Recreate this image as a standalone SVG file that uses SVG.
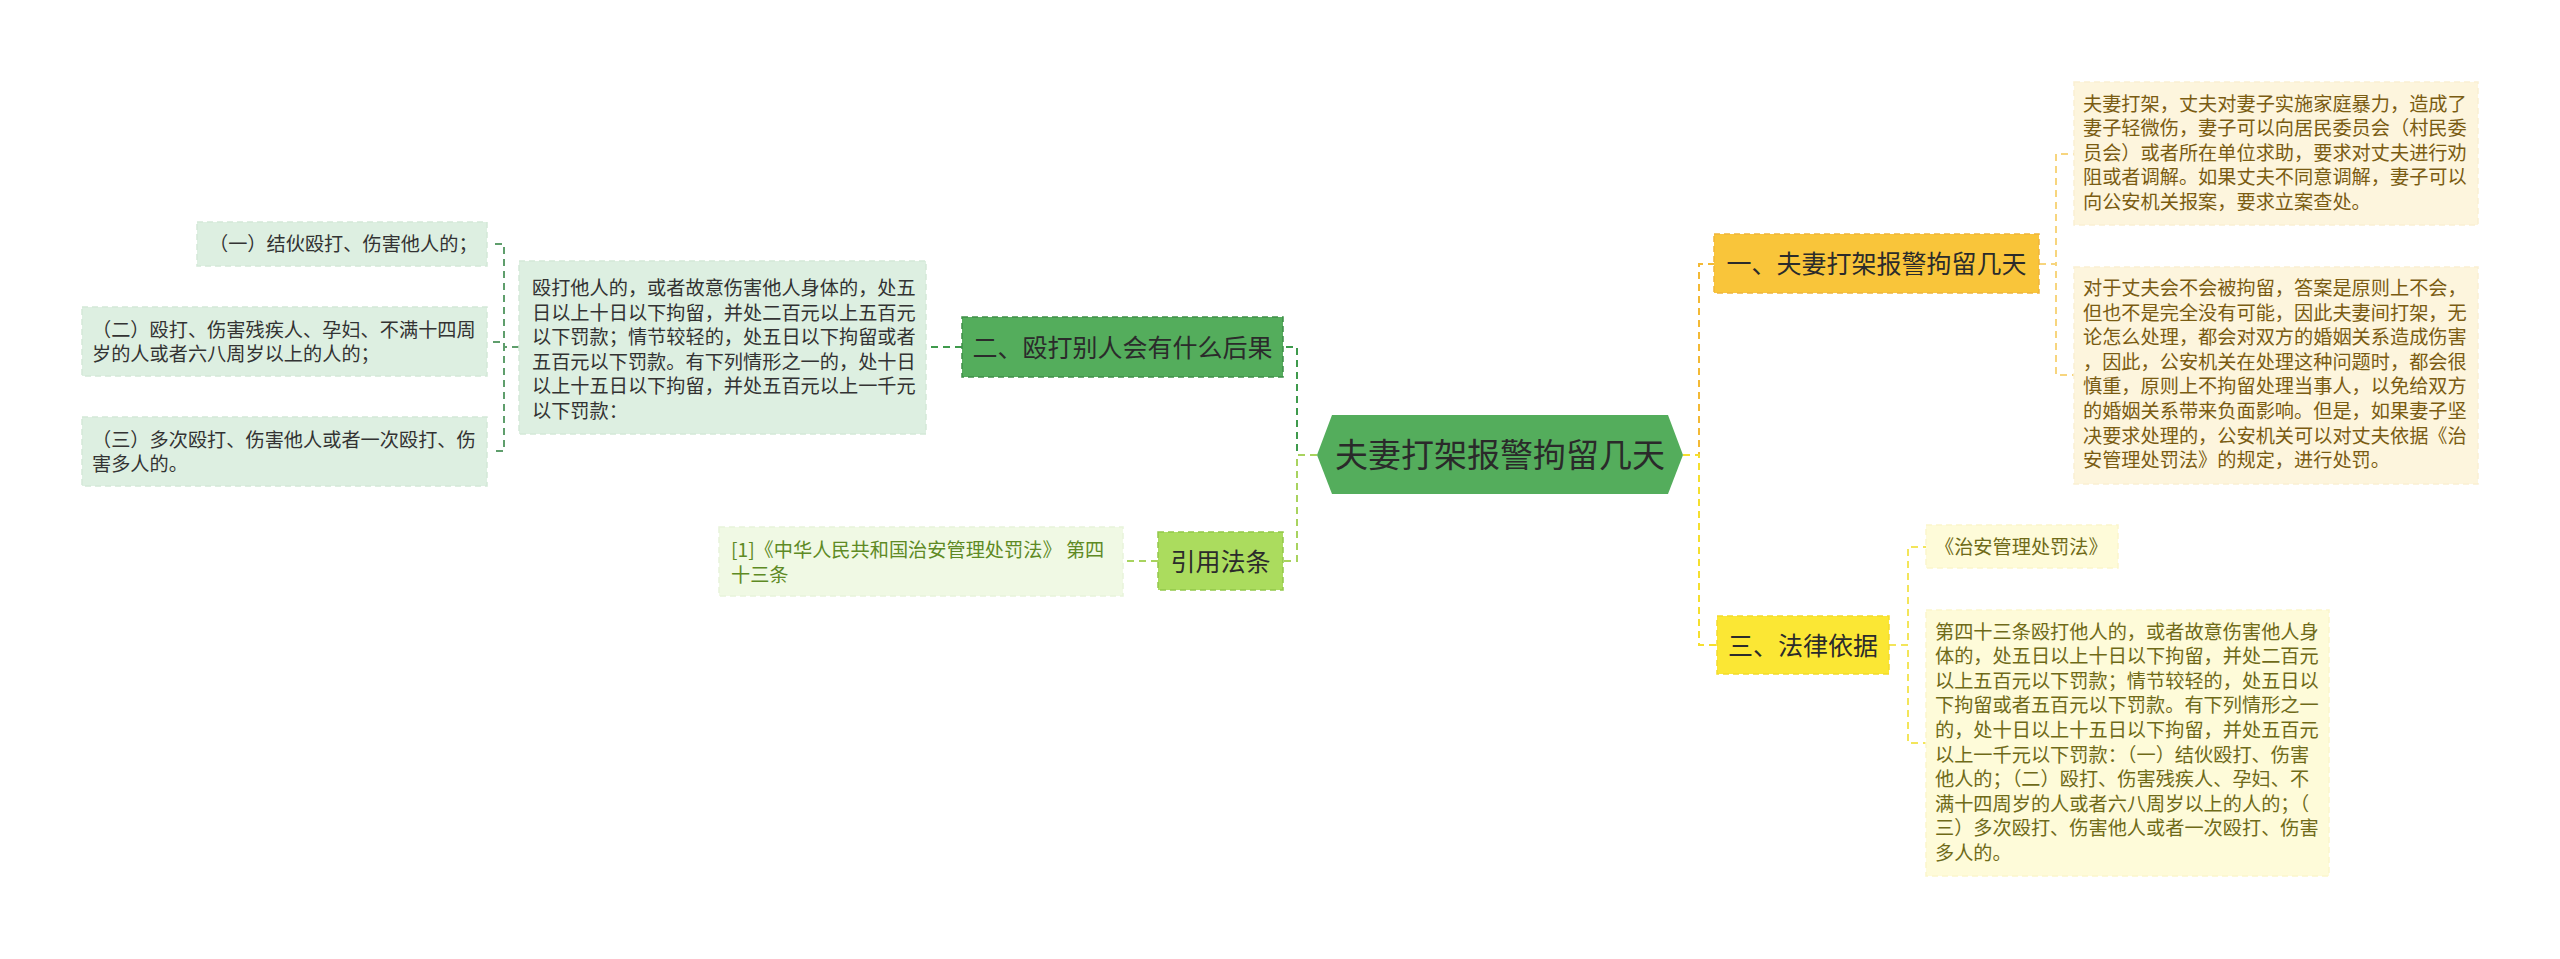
<svg xmlns="http://www.w3.org/2000/svg" width="2560" height="959" viewBox="0 0 2560 959">
<style>
text{font-family:"Noto Sans CJK SC","Noto Sans",sans-serif;}
.leaf{font-size:19.2px;}
.main{font-size:25px;text-anchor:middle;fill:#2b2b2b;}
.c{fill:none;stroke-width:2;stroke-dasharray:7 5;}
.bd{stroke-width:1.5;stroke-dasharray:6 4;}
</style>
<rect width="2560" height="959" fill="#ffffff"/>
<g id="connectors">
<path class="c" stroke="#3e9a4c" d="M1317,455 H1297 V347 H1283"/>
<path class="c" stroke="#a8d35e" d="M1317,455 H1297 V561 H1283"/>
<path class="c" stroke="#a8d35e" d="M1158,561 H1123"/>
<path class="c" stroke="#3e9a4c" d="M962,347 H926"/>
<path class="c" stroke="#5f9e6c" d="M519,347 H504 V244 H491"/>
<path class="c" stroke="#5f9e6c" d="M519,347 H504 V342 H491"/>
<path class="c" stroke="#5f9e6c" d="M519,347 H504 V451 H491"/>
<path class="c" stroke="#f3b935" d="M1683,455 H1699 V264 H1714"/>
<path class="c" stroke="#f5df2e" d="M1683,455 H1699 V645 H1717"/>
<path class="c" stroke="#f7d57e" d="M2039,264 H2056 V154 H2074"/>
<path class="c" stroke="#f7d57e" d="M2039,264 H2056 V375 H2074"/>
<path class="c" stroke="#f3e55a" d="M1889,645 H1908 V547 H1926"/>
<path class="c" stroke="#f3e55a" d="M1889,645 H1908 V743 H1926"/>
</g>
<g id="center">
<polygon points="1317,455 1332,415 1668,415 1683,455 1668,494 1332,494" fill="#54ad5c"/>
<text x="1500" y="467" font-size="33" text-anchor="middle" fill="#2a2a2a">夫妻打架报警拘留几天</text>
</g>
<g id="n2">
<rect class="bd" x="962" y="317" width="321" height="60" fill="#54ad5c" stroke="#3e8f47"/>
<text class="main" x="1122.5" y="356.5">二、殴打别人会有什么后果</text>
</g>
<g id="n2-detail">
<rect class="bd" x="519" y="261" width="407" height="173" fill="#ddefe1" stroke="#d4e9d8"/>
<text class="leaf" x="532" fill="#333333"><tspan x="532" y="295">殴打他人的，或者故意伤害他人身体的，处五</tspan><tspan x="532" y="319.6">日以上十日以下拘留，并处二百元以上五百元</tspan><tspan x="532" y="344.2">以下罚款；情节较轻的，处五日以下拘留或者</tspan><tspan x="532" y="368.8">五百元以下罚款。有下列情形之一的，处十日</tspan><tspan x="532" y="393.4">以上十五日以下拘留，并处五百元以上一千元</tspan><tspan x="532" y="418">以下罚款：</tspan></text>
</g>
<g id="n2-a">
<rect class="bd" x="197" y="222" width="290" height="44" fill="#ddefe1" stroke="#d4e9d8"/>
<text class="leaf" x="209" y="251.3" fill="#333333">（一）结伙殴打、伤害他人的；</text>
</g>
<g id="n2-b">
<rect class="bd" x="82" y="307" width="405" height="69" fill="#ddefe1" stroke="#d4e9d8"/>
<text class="leaf" fill="#333333"><tspan x="92" y="336.5">（二）殴打、伤害残疾人、孕妇、不满十四周</tspan><tspan x="92" y="361.1">岁的人或者六八周岁以上的人的；</tspan></text>
</g>
<g id="n2-c">
<rect class="bd" x="82" y="417" width="405" height="69" fill="#ddefe1" stroke="#d4e9d8"/>
<text class="leaf" fill="#333333"><tspan x="92" y="446.5">（三）多次殴打、伤害他人或者一次殴打、伤</tspan><tspan x="92" y="471.1">害多人的。</tspan></text>
</g>
<g id="ref">
<rect class="bd" x="1158" y="532" width="125" height="58" fill="#abdc5e" stroke="#93c84a"/>
<text class="main" x="1220.5" y="570.5">引用法条</text>
</g>
<g id="ref-detail">
<rect class="bd" x="719" y="527" width="404" height="69" fill="#f0f9e4" stroke="#e8f4da"/>
<text class="leaf" fill="#5e8a24"><tspan x="731" y="557">[1]《中华人民共和国治安管理处罚法》 第四</tspan><tspan x="731" y="581.6">十三条</tspan></text>
</g>
<g id="n1">
<rect class="bd" x="1714" y="234" width="325" height="59" fill="#f9c53a" stroke="#f0b53a"/>
<text class="main" x="1876.5" y="273">一、夫妻打架报警拘留几天</text>
</g>
<g id="n1-a">
<rect class="bd" x="2074" y="82" width="404" height="143" fill="#fdf5dd" stroke="#faf0d2"/>
<text class="leaf" fill="#7a5c12"><tspan x="2083" y="110.5">夫妻打架，丈夫对妻子实施家庭暴力，造成了</tspan><tspan x="2083" y="135.1">妻子轻微伤，妻子可以向居民委员会（村民委</tspan><tspan x="2083" y="159.7">员会）或者所在单位求助，要求对丈夫进行劝</tspan><tspan x="2083" y="184.3">阻或者调解。如果丈夫不同意调解，妻子可以</tspan><tspan x="2083" y="208.9">向公安机关报案，要求立案查处。</tspan></text>
</g>
<g id="n1-b">
<rect class="bd" x="2074" y="267" width="404" height="217" fill="#fdf5dd" stroke="#faf0d2"/>
<text class="leaf" fill="#7a5c12"><tspan x="2083" y="295">对于丈夫会不会被拘留，答案是原则上不会，</tspan><tspan x="2083" y="319.6">但也不是完全没有可能，因此夫妻间打架，无</tspan><tspan x="2083" y="344.2">论怎么处理，都会对双方的婚姻关系造成伤害</tspan><tspan x="2083" y="368.8">，因此，公安机关在处理这种问题时，都会很</tspan><tspan x="2083" y="393.4">慎重，原则上不拘留处理当事人，以免给双方</tspan><tspan x="2083" y="418">的婚姻关系带来负面影响。但是，如果妻子坚</tspan><tspan x="2083" y="442.6">决要求处理的，公安机关可以对丈夫依据《治</tspan><tspan x="2083" y="467.2">安管理处罚法》的规定，进行处罚。</tspan></text>
</g>
<g id="n3">
<rect class="bd" x="1717" y="616" width="172" height="58" fill="#fbe734" stroke="#f3dc2a"/>
<text class="main" x="1803" y="654.5">三、法律依据</text>
</g>
<g id="n3-a">
<rect class="bd" x="1926" y="525" width="192" height="43" fill="#fefbd9" stroke="#fbf6cc"/>
<text class="leaf" x="1935" y="553.5" fill="#6f6a18">《治安管理处罚法》</text>
</g>
<g id="n3-b">
<rect class="bd" x="1926" y="610" width="403" height="266" fill="#fefbd9" stroke="#fbf6cc"/>
<text class="leaf" fill="#6f6a18"><tspan x="1935" y="638.5">第四十三条殴打他人的，或者故意伤害他人身</tspan><tspan x="1935" y="663.1">体的，处五日以上十日以下拘留，并处二百元</tspan><tspan x="1935" y="687.7">以上五百元以下罚款；情节较轻的，处五日以</tspan><tspan x="1935" y="712.3">下拘留或者五百元以下罚款。有下列情形之一</tspan><tspan x="1935" y="736.9">的，处十日以上十五日以下拘留，并处五百元</tspan><tspan x="1935" y="761.5">以上一千元以下罚款：（一）结伙殴打、伤害</tspan><tspan x="1935" y="786.1">他人的；（二）殴打、伤害残疾人、孕妇、不</tspan><tspan x="1935" y="810.7">满十四周岁的人或者六八周岁以上的人的；（</tspan><tspan x="1935" y="835.3">三）多次殴打、伤害他人或者一次殴打、伤害</tspan><tspan x="1935" y="859.9">多人的。</tspan></text>
</g>
</svg>
